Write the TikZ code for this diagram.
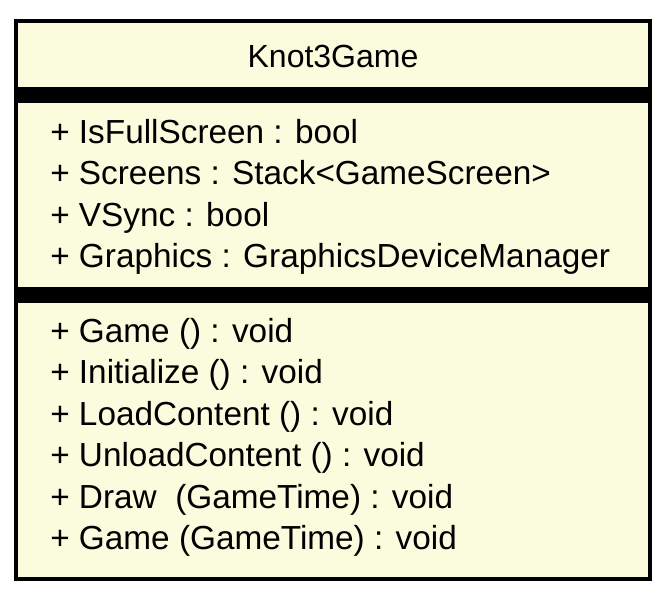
\documentclass[tikz,border=0pt]{standalone}
\usepackage{fontspec}
\setmainfont{Liberation Sans}

\begin{document}
\begin{tikzpicture}[x=0.75pt,y=0.75pt,yscale=-1,xscale=1]
\tikzset{member/.style={anchor=base west,inner sep=0pt,font=\fontsize{25}{30}\selectfont},
  classname/.style={anchor=base,inner sep=0pt,font=\fontsize{24}{30}\selectfont}}
\useasboundingbox (0,0) rectangle (667,600);

%Shape: Rectangle [id:classbox]
\draw [line width=3pt, fill={rgb, 255:red, 251; green, 251; blue, 221 }] (16,21) -- (650,21) -- (650,579) -- (16,579) -- cycle ;
%Shape: Rectangle [id:namebar]
\fill (16,87) rectangle (650,103) ;
%Shape: Rectangle [id:attrbar]
\fill (16,287) rectangle (650,303) ;

% Text Node
\draw (333,67) node (title) [classname] {Knot3Game};
% Text Node
\draw (50,143) node (attrFull) [member] {+ IsFullScreen : bool};
% Text Node
\draw (50,184.5) node (attrScreens) [member] {+ Screens : Stack<GameScreen>};
% Text Node
\draw (50,226) node (attrVSync) [member] {+ VSync : bool};
% Text Node
\draw (50,267.5) node (attrGraphics) [member] {+ Graphics : GraphicsDeviceManager};
% Text Node
\draw (50,342) node (opGame) [member] {+ Game () : void};
% Text Node
\draw (50,383.5) node (opInit) [member] {+ Initialize () : void};
% Text Node
\draw (50,425) node (opLoad) [member] {+ LoadContent () : void};
% Text Node
\draw (50,466.5) node (opUnload) [member] {+ UnloadContent () : void};
% Text Node
\draw (50,508) node (opDraw) [member] {+ Draw\ \ (GameTime) : void};
% Text Node
\draw (50,549.5) node (opGameTime) [member] {+ Game (GameTime) : void};

\end{tikzpicture}
\end{document}
